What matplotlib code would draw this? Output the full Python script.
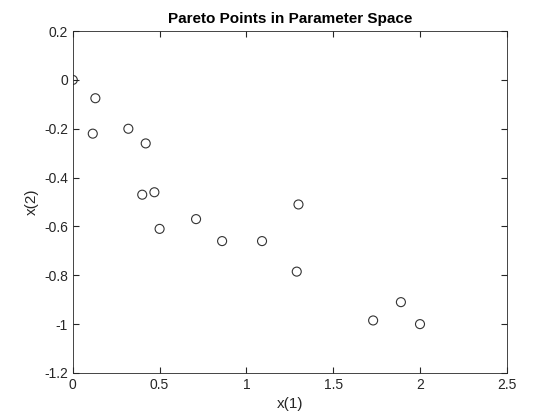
import matplotlib.pyplot as plt

# Pareto points
x1 = [0.0, 0.13, 0.115, 0.32, 0.42, 0.40, 0.47, 0.50, 0.71, 0.86, 1.09, 1.30, 1.29, 1.73, 1.89, 2.0]
x2 = [0.0, -0.075, -0.22, -0.20, -0.26, -0.47, -0.46, -0.61, -0.57, -0.66, -0.66, -0.51, -0.785, -0.985, -0.91, -1.0]

xticks = [0, 0.5, 1, 1.5, 2, 2.5]
yticks = [-1.2, -1, -0.8, -0.6, -0.4, -0.2, 0, 0.2]

plt.rcParams['font.family'] = ['Liberation Sans', 'DejaVu Sans']
fig = plt.figure(figsize=(5.6, 4.2), dpi=100)
ax = fig.add_axes([0.13, 0.112, 0.775, 0.814])
ax.scatter(x1, x2, s=42, facecolors='none', edgecolors='#333333', linewidths=0.8)
ax.set_xlim(0, 2.5)
ax.set_ylim(-1.2, 0.2)
ax.set_xticks(xticks)
ax.set_xticklabels([f"{t:g}" for t in xticks])
ax.set_yticks(yticks)
ax.set_yticklabels([f"{t:g}" for t in yticks])
ax.tick_params(direction='in', length=4, labelsize=10, color='#262626', labelcolor='#262626',
               top=True, right=True)
for s in ax.spines.values():
    s.set_color('#262626')
    s.set_linewidth(0.6)
ax.set_xlabel("x(1)", fontsize=11, color='#262626')
ax.set_ylabel("x(2)", fontsize=11, color='#262626')
ax.set_title("Pareto Points in Parameter Space", fontsize=11, fontweight='bold')
fig.savefig("out.png", dpi=100)
